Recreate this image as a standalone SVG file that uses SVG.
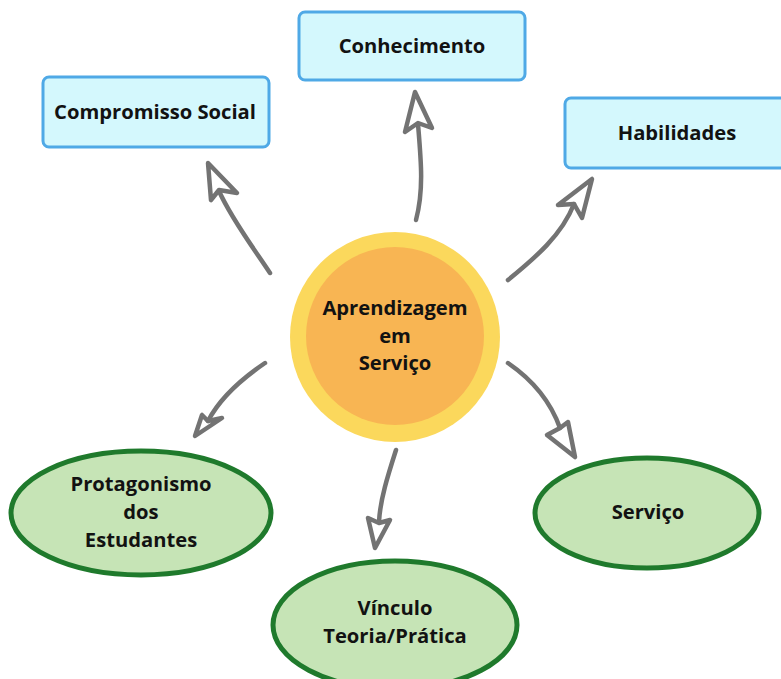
<svg xmlns="http://www.w3.org/2000/svg" width="781" height="679" viewBox="0 0 781 679">
  <style>
    .box { fill: #d4f8fd; stroke: #4fa9e6; stroke-width: 3; }
    .leaf { fill: #c6e4b6; stroke: #1f7a2c; stroke-width: 5; }
    .lbl { font-family: "Open Sans", "Liberation Sans", sans-serif; font-weight: 700; font-size: 20.2px; fill: #121212; text-anchor: middle; }
    .shaft { fill: none; stroke: #737373; stroke-width: 4.5; stroke-linecap: round; stroke-linejoin: round; }
    .head { fill: none; stroke: #737373; stroke-width: 4.5; stroke-linecap: round; stroke-linejoin: round; }
  </style>
  <rect width="781" height="679" fill="#ffffff"/>

  <!-- connectors: hand-drawn curved arrows with open heads -->
  <g id="connectors">
    <path class="shaft" d="M270,273 C255,250 232,220 219,191"/>
    <path class="head" d="M211,200 L208,163 L237,193 L219,190 Z"/>

    <path class="shaft" d="M416,220 C424,190 421,160 418,124"/>
    <path class="head" d="M405,132 L415,92 L432,128 L418,123 Z"/>

    <path class="shaft" d="M508,280 C535,258 562,235 574,204"/>
    <path class="head" d="M558,205 L592,179 L582,218 L574,204 Z"/>

    <path class="shaft" d="M265,363 C240,380 220,398 208,421"/>
    <path class="head" d="M202,415 L195,436 L222,418 L208,421 Z"/>

    <path class="shaft" d="M396,450 C388,475 380,500 379,522"/>
    <path class="head" d="M368,518 L375,548 L390,520 L379,523 Z"/>

    <path class="shaft" d="M508,363 C530,378 550,400 560,428"/>
    <path class="head" d="M547,435 L575,457 L568,422 L560,428 Z"/>
  </g>

  <g id="node-centro">
    <circle cx="395" cy="337" r="105" fill="#fbd85c"/>
    <circle cx="395" cy="336" r="89" fill="#f8b553"/>
    <text class="lbl" x="395" y="315">Aprendizagem</text>
    <text class="lbl" x="395" y="343">em</text>
    <text class="lbl" x="395" y="370">Serviço</text>
  </g>

  <g id="node-compromisso">
    <rect class="box" x="43" y="77" width="226" height="70" rx="6"/>
    <text class="lbl" x="155" y="119">Compromisso Social</text>
  </g>

  <g id="node-conhecimento">
    <rect class="box" x="299" y="12" width="226" height="68" rx="6"/>
    <text class="lbl" x="412" y="53">Conhecimento</text>
  </g>

  <g id="node-habilidades">
    <rect class="box" x="565" y="98" width="226" height="70" rx="6"/>
    <text class="lbl" x="677" y="140">Habilidades</text>
  </g>

  <g id="node-protagonismo">
    <ellipse class="leaf" cx="141" cy="513" rx="130" ry="62"/>
    <text class="lbl" x="141" y="491">Protagonismo</text>
    <text class="lbl" x="141" y="519">dos</text>
    <text class="lbl" x="141" y="547">Estudantes</text>
  </g>

  <g id="node-vinculo">
    <ellipse class="leaf" cx="395" cy="625" rx="122" ry="64"/>
    <text class="lbl" x="395" y="615">Vínculo</text>
    <text class="lbl" x="395" y="643">Teoria/Prática</text>
  </g>

  <g id="node-servico">
    <ellipse class="leaf" cx="647" cy="513" rx="112" ry="55"/>
    <text class="lbl" x="648" y="519">Serviço</text>
  </g>
</svg>
